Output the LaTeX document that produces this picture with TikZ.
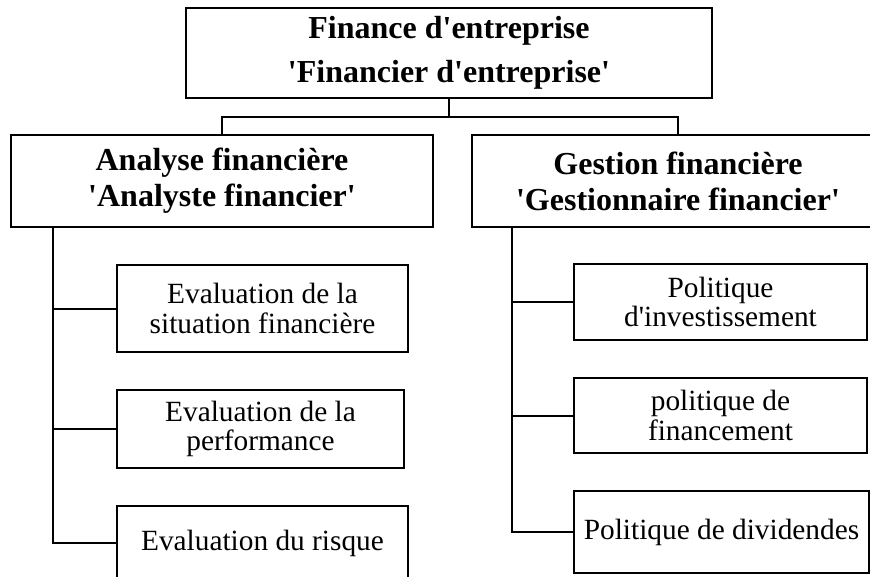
\documentclass[tikz,border=0pt]{standalone}
\usepackage{fontspec}
\setmainfont{Liberation Serif}
\newcommand{\q}{\textquotesingle}

\begin{document}
\begin{tikzpicture}[x=0.75pt,y=-0.75pt,line width=1.5pt,
    box/.style={draw,inner sep=0pt,align=center},
    head/.style={box,font=\bfseries\fontsize{24}{33}\selectfont},
    sub/.style={box,font=\bfseries\fontsize{24}{27}\selectfont},
    leaf/.style={box,font=\fontsize{22}{22}\selectfont}]
  \useasboundingbox (0,0) rectangle (870,576);
  \clip (0,0) rectangle (870,576);

  \node[head,minimum width=394.5pt,minimum height=67.5pt] (top) at (449,53)
    {Finance d\q entreprise\\\q Financier d\q entreprise\q};
  \node[sub,minimum width=316.5pt,minimum height=69pt] (ana) at (222,181)
    {Analyse financière\\\q Analyste financier\q};
  \node[sub,minimum width=309pt,minimum height=69pt] (ges) at (678,181)
    {Gestion financière\\\q Gestionnaire financier\q};

  % analyse
  \node[leaf,minimum width=218.25pt,minimum height=65.25pt] (e1) at (262.5,308.5)
    {Evaluation de la\\situation financière};
  \node[leaf,minimum width=215.25pt,minimum height=58.5pt] (e2) at (260.5,429)
    {Evaluation de la\\performance};
  \node[leaf,minimum width=218.25pt,minimum height=55.5pt] (e3) at (262.5,543)
    {Evaluation du risque};

  % gestion
  \node[leaf,minimum width=219.75pt,minimum height=57pt] (p1) at (720.5,302)
    {Politique\\d\q investissement};
  \node[leaf,minimum width=219.75pt,minimum height=56.25pt] (p2) at (720.5,415.5)
    {politique de\\financement};
  \node[leaf,minimum width=221.25pt,minimum height=61.5pt] (p3) at (721.5,532)
    {Politique de dividendes};

  \coordinate (split) at (449,117);
  \draw (top.south) -- (split);
  \draw (ana.north) |- (split) -| (ges.north);

  \coordinate (lroot) at (53,227);
  \draw (lroot) |- (e3.west);
  \foreach \n in {e1,e2}
    \draw (lroot |- \n.west) -- (\n.west);

  \coordinate (rroot) at (512,227);
  \draw (rroot) |- (p3.west);
  \foreach \n in {p1,p2}
    \draw (rroot |- \n.west) -- (\n.west);
\end{tikzpicture}
\end{document}
